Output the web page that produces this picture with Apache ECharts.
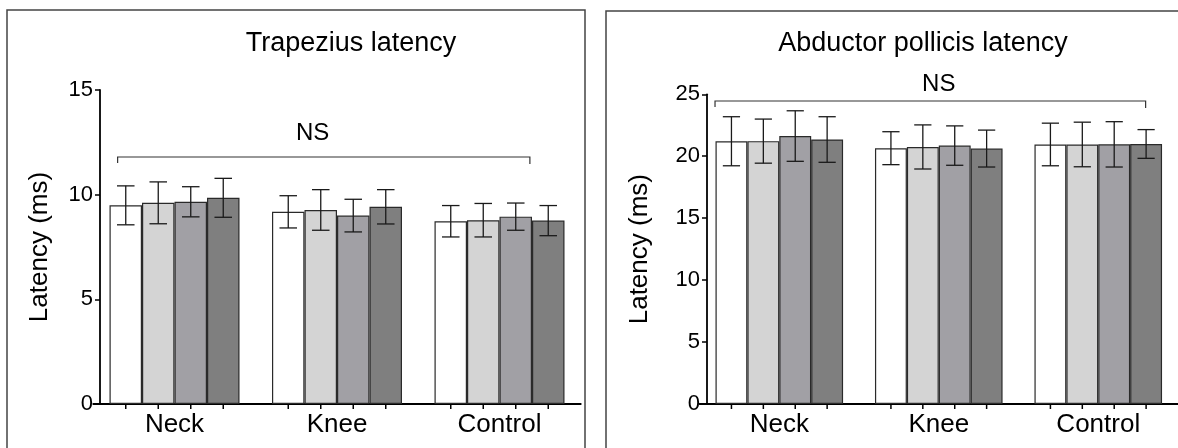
<!DOCTYPE html>
<html>
<head>
<meta charset="utf-8">
<script src="https://cdn.jsdelivr.net/npm/echarts@6/dist/echarts.min.js"></script>
<style>
  html, body { margin: 0; padding: 0; background: #ffffff; }
  #chart { width: 1178px; height: 448px; }
</style>
</head>
<body>
<div id="chart"></div>
<script>
// Groups on the x axis
const categories = ['Neck', 'Knee', 'Control'];

// Trapezius latency (ms): one row per condition bar, one column per group
const trapeziusMean = [
  [9.49, 9.18, 8.73],
  [9.61, 9.27, 8.78],
  [9.66, 9.00, 8.95],
  [9.85, 9.42, 8.76]
];
const trapeziusErr = [
  [0.93, 0.77, 0.75],
  [1.00, 0.97, 0.80],
  [0.72, 0.78, 0.65],
  [0.93, 0.82, 0.72]
];

// Abductor pollicis latency (ms)
const abductorMean = [
  [21.21, 20.65, 20.95],
  [21.22, 20.75, 20.95],
  [21.63, 20.86, 20.96],
  [21.35, 20.62, 20.99]
];
const abductorErr = [
  [1.98, 1.33, 1.72],
  [1.78, 1.78, 1.80],
  [2.04, 1.59, 1.83],
  [1.84, 1.49, 1.16]
];

// Y axis ranges and tick step
const trapeziusAxis = [0, 15, 5];
const abductorAxis = [0, 25, 5];

// Significance brackets: [level, start, end (in category units), text position, text level]
const trapeziusBracket = [11.8, -0.35, 2.187, 0.85, 12.95];
const abductorBracket = [24.46, -0.403, 2.297, 1.0, 25.8];
const bracketLabel = 'NS';

const panelTitles = ['Trapezius latency', 'Abductor pollicis latency'];
const axisTitle = 'Latency (ms)';

const barColors = ['#ffffff', '#d4d4d4', '#a1a0a5', '#7f7f7f'];
const FONT = '"Liberation Sans", Arial, Helvetica, sans-serif';

const chart = echarts.init(document.getElementById('chart'), null, { renderer: 'canvas' });

function barSeries(gridIdx, means) {
  return means.map((vals, s) => ({
    type: 'bar',
    xAxisIndex: gridIdx,
    yAxisIndex: gridIdx,
    data: vals,
    barGap: '0%',
    barCategoryGap: '20%',
    itemStyle: { color: barColors[s], borderColor: '#2a2a2a', borderWidth: 1.2 },
    silent: true
  }));
}

// Error bars plus one axis tick below every bar
function errorSeries(gridIdx, means, errs) {
  const data = [];
  means.forEach((row, s) => row.forEach((m, c) => data.push([c, m, s, errs[s][c]])));
  return {
    type: 'custom',
    xAxisIndex: gridIdx,
    yAxisIndex: gridIdx,
    data: data,
    encode: { x: 0, y: 1 },
    z: 10,
    silent: true,
    renderItem: function (params, api) {
      const c = api.value(0), m = api.value(1), s = api.value(2), e = api.value(3);
      const band = api.size([1, 0])[0];
      const bw = band * 0.8 / 4;
      const base = api.coord([c, 0]);
      const cx = base[0] + (s - 1.5) * bw;
      const yTop = api.coord([c, m + e])[1];
      const yBot = api.coord([c, m - e])[1];
      const cap = bw * 0.27;
      const st = { stroke: '#1a1a1a', lineWidth: 1.3 };
      return {
        type: 'group',
        children: [
          { type: 'line', shape: { x1: cx, y1: yTop, x2: cx, y2: yBot }, style: st },
          { type: 'line', shape: { x1: cx - cap, y1: yTop, x2: cx + cap, y2: yTop }, style: st },
          { type: 'line', shape: { x1: cx - cap, y1: yBot, x2: cx + cap, y2: yBot }, style: st },
          { type: 'line', shape: { x1: cx, y1: base[1], x2: cx, y2: base[1] + 5 }, style: { stroke: '#000', lineWidth: 1.5 } }
        ]
      };
    }
  };
}

function bracketSeries(gridIdx, b) {
  return {
    type: 'custom',
    xAxisIndex: gridIdx,
    yAxisIndex: gridIdx,
    data: [[0, b[0], b[1], b[2], b[3], b[4]]],
    encode: { x: 0, y: 1 },
    z: 12,
    silent: true,
    renderItem: function (params, api) {
      const band = api.size([1, 0])[0];
      const p = api.coord([0, api.value(1)]);
      const xL = p[0] + api.value(2) * band;
      const xR = p[0] + api.value(3) * band;
      const y = p[1];
      const tx = p[0] + api.value(4) * band;
      const ty = api.coord([0, api.value(5)])[1];
      const st = { stroke: '#333', lineWidth: 1.2, fill: null };
      return {
        type: 'group',
        children: [
          { type: 'polyline', shape: { points: [[xL, y + 6], [xL, y], [xR, y], [xR, y + 7]] }, style: st },
          { type: 'text', x: tx, y: ty, style: { text: bracketLabel, fill: '#000', font: '24px ' + FONT, align: 'center', verticalAlign: 'middle' } }
        ]
      };
    }
  };
}

function xAxisCfg(gridIdx) {
  return {
    type: 'category',
    gridIndex: gridIdx,
    data: categories,
    axisLine: { lineStyle: { color: '#000', width: 1.8 } },
    axisTick: { show: false },
    axisLabel: { color: '#000', fontSize: 26, fontFamily: FONT, margin: 8 },
    splitLine: { show: false }
  };
}

function yAxisCfg(gridIdx, range, offset, gap) {
  return {
    type: 'value',
    gridIndex: gridIdx,
    min: range[0],
    max: range[1],
    interval: range[2],
    offset: offset,
    name: axisTitle,
    nameLocation: 'middle',
    nameGap: gap,
    nameRotate: 90,
    nameTextStyle: { color: '#000', fontSize: 26, fontFamily: FONT },
    axisLine: { show: true, lineStyle: { color: '#000', width: 1.8 } },
    axisTick: { show: true, length: 5, lineStyle: { color: '#000', width: 1.5 } },
    axisLabel: { color: '#000', fontSize: 22, fontFamily: FONT, margin: 7 },
    splitLine: { show: false }
  };
}

const option = {
  animation: false,
  backgroundColor: '#ffffff',
  title: [
    { text: panelTitles[0], left: 346, top: 25, textAlign: 'center',
      textStyle: { color: '#000', fontSize: 27, fontWeight: 'normal', fontFamily: FONT } },
    { text: panelTitles[1], left: 918, top: 25, textAlign: 'center',
      textStyle: { color: '#000', fontSize: 27, fontWeight: 'normal', fontFamily: FONT } }
  ],
  graphic: [
    { type: 'rect', shape: { x: 7, y: 10, width: 578, height: 460 }, style: { fill: null, stroke: '#444', lineWidth: 1.5 }, silent: true },
    { type: 'rect', shape: { x: 606, y: 11, width: 590, height: 460 }, style: { fill: null, stroke: '#444', lineWidth: 1.5 }, silent: true }
  ],
  grid: [
    { left: 93.25, top: 90, width: 487.5, height: 314 },
    { left: 699.55, top: 94.3, width: 478.5, height: 309.7 }
  ],
  xAxis: [xAxisCfg(0), xAxisCfg(1)],
  yAxis: [
    yAxisCfg(0, trapeziusAxis, -6.75, 47),
    yAxisCfg(1, abductorAxis, -7.45, 54)
  ],
  series: [].concat(
    barSeries(0, trapeziusMean),
    [errorSeries(0, trapeziusMean, trapeziusErr), bracketSeries(0, trapeziusBracket)],
    barSeries(1, abductorMean),
    [errorSeries(1, abductorMean, abductorErr), bracketSeries(1, abductorBracket)]
  )
};

chart.setOption(option);
</script>
</body>
</html>
